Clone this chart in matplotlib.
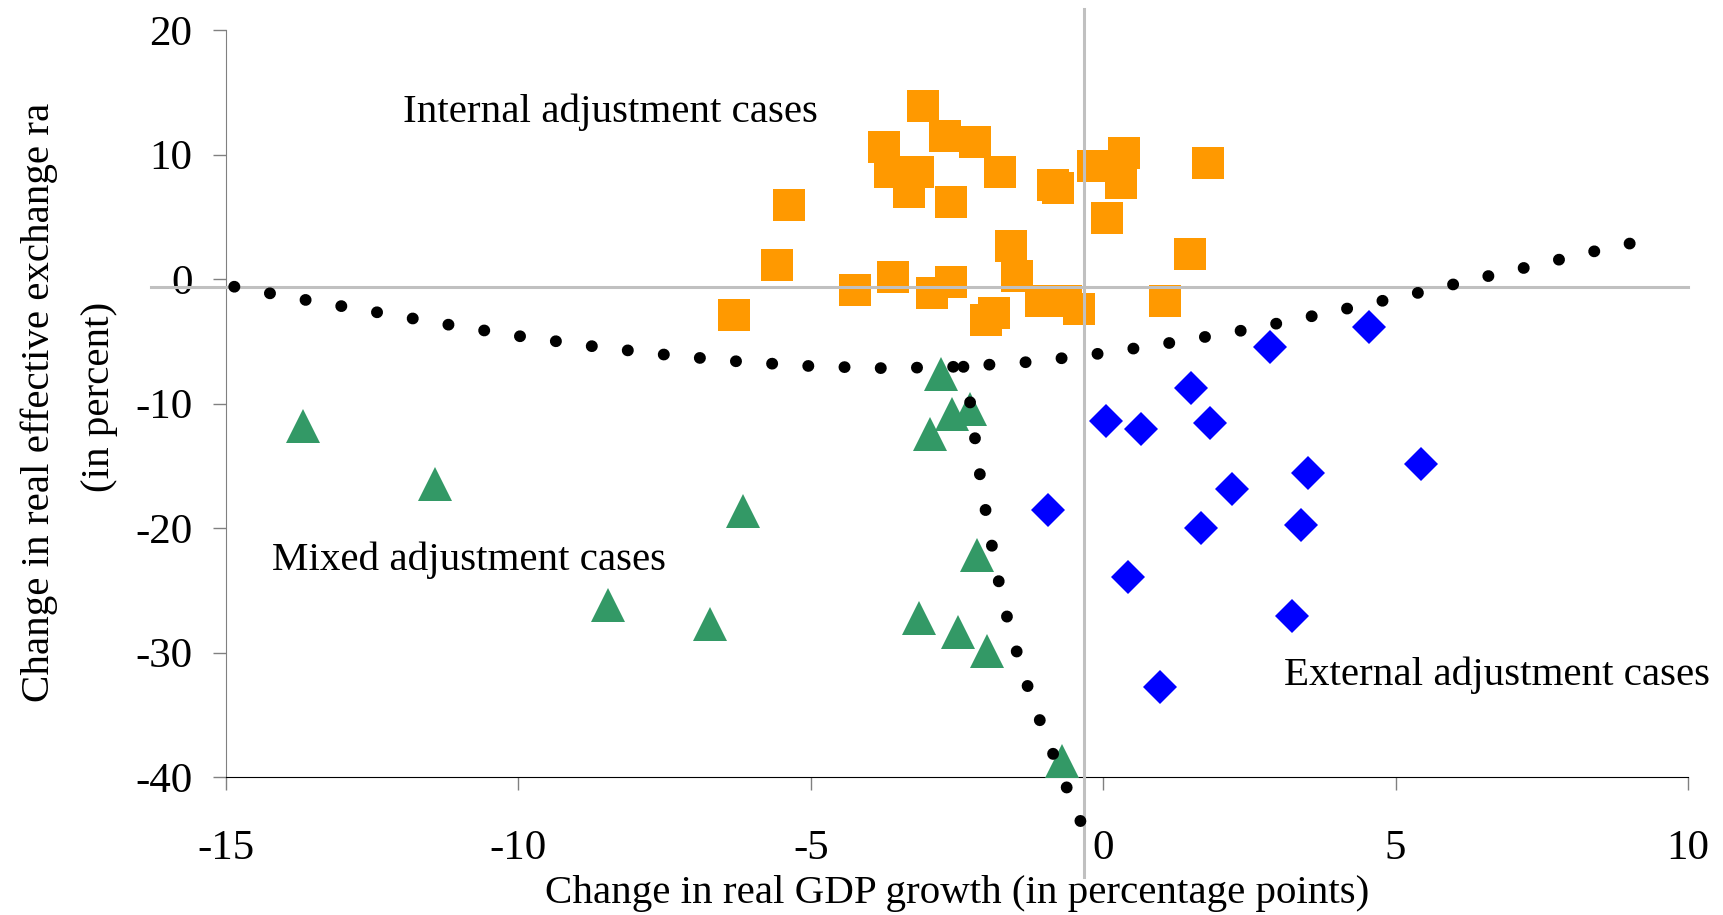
import matplotlib
matplotlib.use("Agg")
import matplotlib.pyplot as plt

plt.rcParams['font.family'] = ['Liberation Serif', 'DejaVu Serif']
plt.rcParams['axes.unicode_minus'] = False

# internal adjustment cases (orange squares)
internal_x = [-3.08, -3.74, -2.71, -2.19, -3.65, -3.17, -3.32, -2.61, -1.77, -0.85, -0.78,
              -0.17, 0.35, 0.30, 0.06, 1.80, 1.48, 1.05, -5.38, -5.57, -6.32, -4.25, -3.59,
              -2.93, -2.61, -2.00, -1.86, -1.58, -1.48, -1.07, -0.64, -0.41]
internal_y = [13.90, 10.58, 11.49, 11.03, 8.62, 8.62, 7.02, 6.17, 8.60, 7.55, 7.35,
              9.08, 10.15, 7.69, 4.88, 9.30, 1.99, -1.73, 5.95, 1.13, -2.88, -0.88, 0.19,
              -1.09, -0.21, -3.28, -2.75, 2.66, 0.25, -1.73, -1.73, -2.42]

# mixed adjustment cases (green triangles)
mixed_x = [-2.77, -2.59, -2.28, -2.96, -2.16, -3.15, -2.49, -1.98, -0.71,
           -13.68, -11.42, -6.16, -8.46, -6.73]
mixed_y = [-7.60, -10.86, -10.45, -12.44, -22.15, -27.24, -28.31, -29.86, -38.67,
           -11.79, -16.45, -18.65, -26.17, -27.69]

# external adjustment cases (blue diamonds)
external_x = [2.85, 4.55, 1.50, 0.04, 0.65, 1.83, 5.44, 3.51, 2.21, 1.68, 3.38, 0.42,
              3.23, 0.98, -0.94]
external_y = [-5.43, -3.87, -8.72, -11.37, -12.01, -11.58, -14.87, -15.54, -16.88,
              -19.96, -19.74, -23.92, -27.02, -32.75, -18.55]

# dotted boundary curves
curve1_x = [-14.86, -13.63, -12.41, -11.17, -9.93, -8.69, -7.45, -6.20, -4.95, -3.69,
            -2.45, -1.19, 0.06, 1.28, 2.53, 3.75, 5.28, 6.49, 7.41, 8.32, 9.30]
curve1_y = [-0.61, -1.68, -2.67, -3.68, -4.62, -5.42, -6.09, -6.63, -7.00, -7.16,
            -7.03, -6.63, -5.91, -5.02, -4.00, -2.80, -1.22, 0.14, 1.13, 2.15, 3.16]
curve2_x = [-2.39, -2.32, -2.23, -2.15, -2.06, -1.95, -1.84, -1.71, -1.55, -1.37,
            -1.17, -0.94, -0.71, -0.47, -0.35]
curve2_y = [-7.03, -8.45, -11.39, -14.34, -17.25, -20.17, -23.06, -25.95, -28.79,
            -31.60, -34.38, -37.14, -39.84, -42.57, -43.97]

xticks = [-15, -10, -5, 0, 5, 10]
yticks = [-40, -30, -20, -10, 0, 10, 20]

fig = plt.figure(figsize=(17.24, 9.15), dpi=100)
ax = fig.add_axes([0.1311, 0.1505, 0.848, 0.8167])

ax.plot(internal_x, internal_y, 's', color='#FF9900', ms=23, mew=0, zorder=3)
ax.plot(mixed_x, mixed_y, '^', color='#339966', ms=25, mew=0, zorder=3)
ax.plot(external_x, external_y, 'D', color='#0000FF', ms=17.8, mew=0, zorder=3)

# grey cross lines
ax.plot([-0.32, -0.32], [-48, 21.7], color='#C0C0C0', lw=2.2, clip_on=False, zorder=4)
ax.plot([-16.29, 10.0], [-0.66, -0.66], color='#C0C0C0', lw=2.2, clip_on=False, zorder=4)

# dotted curves: round-capped near-zero dashes give round dots
for cx, cy in [(curve1_x, curve1_y), (curve2_x, curve2_y)]:
    ax.plot(cx, cy, color='black', lw=8.5, clip_on=False, zorder=5,
            linestyle=(0, (0.02, 3.05)), dash_capstyle='round')

ax.text(-11.97, 12.64, 'Internal adjustment cases', fontsize=29.5, va='baseline', zorder=6)
ax.text(-14.22, -23.36, 'Mixed adjustment cases', fontsize=29.5, va='baseline', zorder=6)
ax.text(3.095, -32.59, 'External adjustment cases', fontsize=29.5, va='baseline', zorder=6)

ax.set_xlim(-15, 10)
ax.set_ylim(-40, 20)
ax.set_xticks(xticks)
ax.set_xticklabels([str(t) for t in xticks])
ax.set_yticks(yticks)
ax.set_yticklabels([str(t) for t in yticks])

ax.spines['top'].set_visible(False)
ax.spines['right'].set_visible(False)
ax.spines['left'].set_color('#808080')
ax.spines['bottom'].set_color('black')
ax.tick_params(axis='both', direction='out', length=9.7, width=1, color='#808080',
               labelsize=31)
ax.tick_params(axis='y', pad=14.4)
ax.tick_params(axis='x', pad=28)

fig.text(957 / 1724, 1 - 903 / 915, 'Change in real GDP growth (in percentage points)',
         fontsize=29.5, ha='center', va='baseline')
fig.text(39 / 1724, 1 - 402 / 915, 'Change in real effective exchange ra',
         fontsize=29.5, rotation=90, ha='center', va='center')
fig.text(100 / 1724, 1 - 397 / 915, '(in percent)',
         fontsize=29.5, rotation=90, ha='center', va='center')

fig.savefig('out.png', dpi=100)
